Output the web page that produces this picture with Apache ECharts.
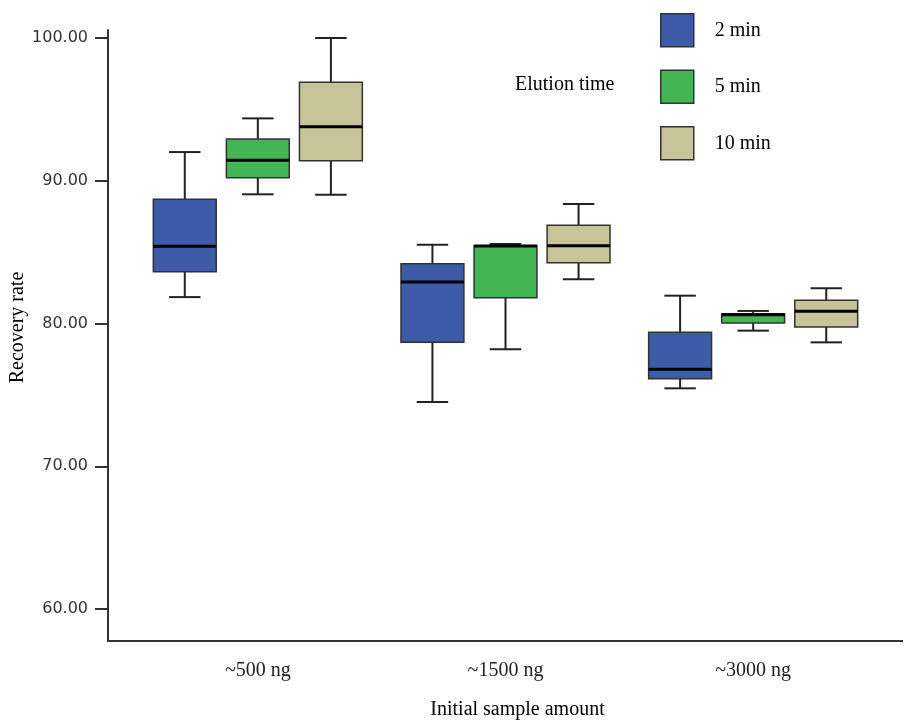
<!DOCTYPE html>
<html>
<head>
<meta charset="utf-8">
<script src="https://cdn.jsdelivr.net/npm/echarts@6/dist/echarts.min.js"></script>
<style>
  html, body { margin: 0; padding: 0; background: #fff; }
  #recoveryChart { width: 908px; height: 720px; }
</style>
</head>
<body>
<div id="recoveryChart"></div>
<script>
// categories and tick labels
const categories = ['~500 ng', '~1500 ng', '~3000 ng'];
const seriesNames = ['2 min', '5 min', '10 min'];
const yTicks = [60, 70, 80, 90, 100];

// each row: [min, Q1, median, Q3, max]
const box2min = [
  [81.85, 83.63, 85.42, 88.71, 92.01],
  [74.50, 78.68, 82.91, 84.19, 85.52],
  [75.46, 76.13, 76.79, 79.38, 81.95]
];
const box5min = [
  [89.05, 90.21, 91.43, 92.92, 94.37],
  [78.19, 81.81, 85.43, 85.45, 85.57],
  [79.50, 80.04, 80.62, 80.69, 80.88]
];
const box10min = [
  [89.02, 91.40, 93.79, 96.90, 100.00],
  [83.10, 84.26, 85.45, 86.89, 88.37],
  [78.68, 79.76, 80.86, 81.63, 82.47]
];

(function () {
    const colors = ['#3d5ba8', '#43b554', '#c8c49a'];
    const serif = 'Liberation Serif';

    // box + whiskers drawn through the axis scales
    function makeRender(shift) {
        return function (params, api) {
            const cat = api.value(0);
            const band = api.size([1, 0])[0];
            const cx = api.coord([cat, 0])[0] + band * shift;
            const hw = band * 0.127;
            const cw = hw / 2;
            const y = [1, 2, 3, 4, 5].map(function (i) {
                return api.coord([cat, api.value(i)])[1];
            });
            const wl = { stroke: '#222', lineWidth: 2 };
            return {
                type: 'group',
                children: [
                    { type: 'line', shape: { x1: cx, y1: y[4], x2: cx, y2: y[3] }, style: wl },
                    { type: 'line', shape: { x1: cx, y1: y[1], x2: cx, y2: y[0] }, style: wl },
                    { type: 'line', shape: { x1: cx - cw, y1: y[4], x2: cx + cw, y2: y[4] }, style: wl },
                    { type: 'line', shape: { x1: cx - cw, y1: y[0], x2: cx + cw, y2: y[0] }, style: wl },
                    {
                        type: 'rect',
                        shape: { x: cx - hw, y: y[3], width: hw * 2, height: y[1] - y[3] },
                        style: { fill: api.visual('color'), stroke: '#333', lineWidth: 1.5 }
                    },
                    { type: 'line', shape: { x1: cx - hw, y1: y[2], x2: cx + hw, y2: y[2] }, style: { stroke: '#000', lineWidth: 3 } }
                ]
            };
        };
    }

    function toData(rows) {
        return rows.map(function (r, i) { return [i].concat(r); });
    }

    const allBoxes = [box2min, box5min, box10min];
    const shifts = [-0.295, 0, 0.295];

    const option = {
        animation: false,
        title: {
            text: 'Elution time',
            left: 510,
            top: 70,
            textStyle: { fontFamily: serif, fontSize: 20, fontWeight: 'normal', color: '#000' }
        },
        legend: {
            orient: 'vertical',
            left: 655,
            top: 8,
            itemWidth: 33,
            itemHeight: 33,
            itemGap: 22,
            icon: 'rect',
            textStyle: { fontFamily: serif, fontSize: 20, color: '#000', padding: [0, 0, 0, 16] },
            data: seriesNames.map(function (n, i) {
                return { name: n, itemStyle: { color: colors[i], borderColor: '#333', borderWidth: 1.5 } };
            })
        },
        grid: { left: 134, right: 31, top: 30, bottom: 79, outerBoundsMode: 'none', containLabel: false },
        xAxis: {
            type: 'category',
            data: categories,
            name: 'Initial sample amount',
            nameLocation: 'middle',
            nameGap: 59,
            nameTextStyle: { fontFamily: serif, fontSize: 20, color: '#000', padding: [0, 0, 0, 24] },
            axisLine: { show: false },
            axisTick: { alignWithLabel: true, length: 14, lineStyle: { color: '#333', width: 2 } },
            axisLabel: { margin: 20, fontFamily: serif, fontSize: 20, color: '#222' },
            splitLine: { show: false }
        },
        yAxis: {
            type: 'value',
            min: 57.76,
            max: 100.56,
            offset: 26,
            name: 'Recovery rate',
            nameLocation: 'middle',
            nameRotate: 90,
            nameGap: 80,
            nameMoveOverlap: false,
            nameTextStyle: { fontFamily: serif, fontSize: 20, color: '#000', padding: [0, 0, 0, 16] },
            axisLine: { show: true, lineStyle: { color: '#333', width: 2 } },
            axisTick: { show: true, length: 13, customValues: yTicks, lineStyle: { color: '#333', width: 2 } },
            axisLabel: {
                margin: 20,
                customValues: yTicks,
                fontFamily: 'DejaVu Sans',
                fontSize: 16,
                color: '#333',
                formatter: function (v) { return v.toFixed(2); }
            },
            splitLine: { show: false }
        },
        graphic: [{
            type: 'line',
            shape: { x1: 107, y1: 641, x2: 903, y2: 641 },
            style: { stroke: '#333', lineWidth: 2 }
        }],
        series: seriesNames.map(function (n, i) {
            return {
                name: n,
                type: 'custom',
                clip: false,
                itemStyle: { color: colors[i], borderColor: '#333', borderWidth: 1.5 },
                encode: { x: 0, y: [1, 2, 3, 4, 5] },
                renderItem: makeRender(shifts[i]),
                data: toData(allBoxes[i])
            };
        })
    };

    const myChart = echarts.init(document.getElementById('recoveryChart'));
    myChart && myChart.setOption(option);
}());
</script>
</body>
</html>
